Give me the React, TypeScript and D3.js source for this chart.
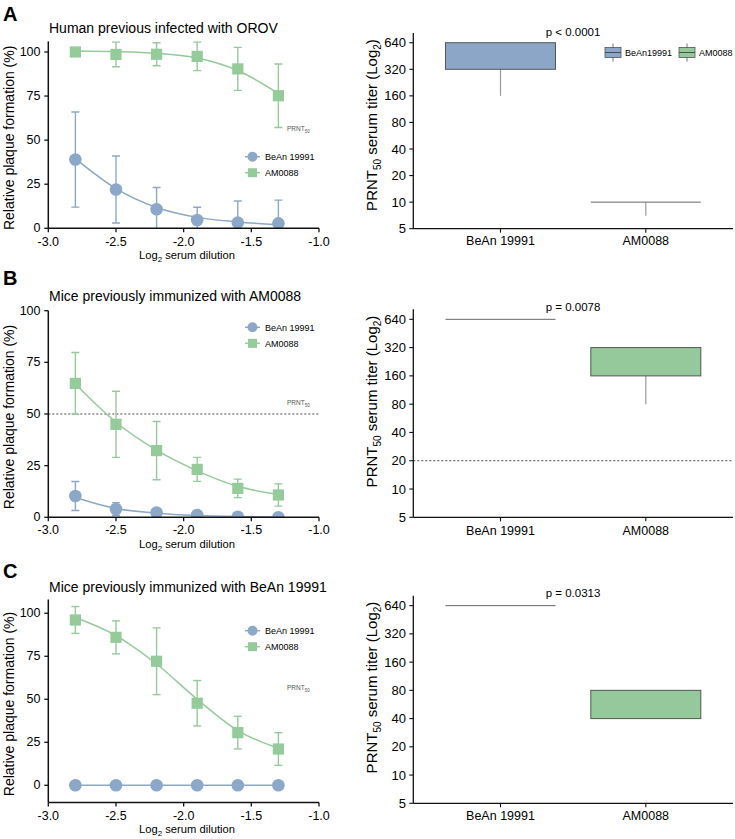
import React from 'react';
import * as d3 from 'd3';

// ---------- shared data ----------
const doses = [-2.8, -2.5, -2.2, -1.9, -1.6, -1.3];
const xTicks = [-3.0, -2.5, -2.0, -1.5, -1.0];
const seriesNames = ['BeAn 19991', 'AM0088'];
const categories = ['BeAn 19991', 'AM0088'];
const boxLegendNames = ['BeAn19991', 'AM0088'];
const titerTicks = [5, 10, 20, 40, 80, 160, 320, 640];
const pctTicks = [0, 25, 50, 75, 100];

// ---------- Panel A ----------
const aBeanMean = [39, 22, 10.8, 4.7, 3.2, 2.8];
const aBeanErr = [27, 19, 12.3, 7.2, 12.3, 13.2];
const aBeanFit = [39.5, 22.5, 11.8, 6.2, 3.6, 2.0];
const aAmMean = [100, 98.6, 98.7, 97.5, 90.4, 75.2];
const aAmErr = [0, 7, 6.5, 8.1, 12.2, 18];
const aAmFit = [100.6, 100.2, 99.2, 96.6, 89.5, 76.5];
const aBoxBean = [160, 320, 640, 640, 640]; // min, q1, median, q3, max
const aBoxAm = [7, 10, 10, 10, 10];
const aPValue = 'p < 0.0001';

// ---------- Panel B ----------
const bBeanMean = [10.3, 4, 2.3, 1.1, 0.3, 0];
const bBeanErr = [7, 3.1, 1.7, 0, 0, 0];
const bBeanFit = [9.6, 4.3, 2.0, 0.9, 0.4, 0.2];
const bAmMean = [64.8, 45, 32.3, 23.2, 14, 10.8];
const bAmErr = [15, 16, 14.1, 5.8, 4.5, 5.4];
const bAmFit = [64.5, 46, 32.5, 22.5, 15, 11];
const bBoxBean = [640, 640, 640, 640, 640];
const bBoxAm = [80, 160, 160, 320, 320];
const bPValue = 'p = 0.0078';
const bPctCutoff = 50;
const bTiterCutoff = 20;

// ---------- Panel C ----------
const cBeanMean = [0, 0, 0, 0, 0, 0];
const cBeanErr = [0, 0, 0, 0, 0, 0];
const cBeanFit = [0, 0, 0, 0, 0, 0];
const cAmMean = [96.1, 86, 72.1, 47.7, 30.6, 21.1];
const cAmErr = [7.8, 9.6, 19.4, 13.2, 9.5, 9.5];
const cAmFit = [97.5, 87, 70.5, 50, 31.8, 21.5];
const cBoxBean = [640, 640, 640, 640, 640];
const cBoxAm = [40, 40, 40, 80, 80];
const cPValue = 'p = 0.0313';

// ---------- styling ----------
const BLUE = '#8ca7c8';
const GREEN = '#95ca9b';
const BOX_BLUE = '#8ba6c6';
const BOX_GREEN = '#95c89b';
const FONT = 'Liberation Sans, Arial, Helvetica, sans-serif';

type LeftCfg = {
  letter: string; letterY: number; title: string; titleY: number;
  yDomain: [number, number]; yRange: [number, number];
  tickBase: number; labelBase: number; legendY: number; prntY: number;
  bean: number[]; beanErr: number[]; beanFit: number[];
  am: number[]; amErr: number[]; amFit: number[];
  cutoff?: number; clipZero: boolean; id: string;
};

type RightCfg = {
  yDomain: [number, number]; yRange: [number, number];
  tickBase: number; labelCenter: number; pText: string; pY: number;
  boxes: number[][]; cutoff?: number; legend: boolean;
};

const xLeft = d3.scaleLinear().domain([-3, -1]).range([48.3, 319]);
const xRight = d3.scalePoint<string>().domain(categories).range([413.3, 733]).padding(0.6);

function Marker({ kind, x, y, size, color }: { kind: string; x: number; y: number; size: number; color: string }) {
  if (kind === 'circle') return <circle cx={x} cy={y} r={size} fill={color} />;
  return <rect x={x - size} y={y - size} width={size * 2} height={size * 2} fill={color} />;
}

function LeftPanel({ c }: { c: LeftCfg }) {
  const y = d3.scaleLinear().domain(c.yDomain).range(c.yRange);
  const x0 = 48.3, x1 = 319;
  const yb = c.yRange[0], yt = c.yRange[1];
  const line = d3.line<number>().x((_, i) => xLeft(doses[i])).y((d) => y(d)).curve(d3.curveMonotoneX);
  const series = [
    { name: seriesNames[0], mean: c.bean, err: c.beanErr, fit: c.beanFit, color: BLUE, kind: 'circle', size: 6.3 },
    { name: seriesNames[1], mean: c.am, err: c.amErr, fit: c.amFit, color: GREEN, kind: 'square', size: 5.6 },
  ];
  const cap = 4;
  const clip = c.clipZero ? `url(#clip${c.id})` : undefined;
  const midY = (yb + yt) / 2;
  return (
    <g>
      <defs>
        <clipPath id={`clip${c.id}`}>
          <rect x={x0} y={yt - 20} width={x1 - x0 + 10} height={yb - yt + 20} />
        </clipPath>
      </defs>
      <text x={3} y={c.letterY} fontSize={20} fontWeight="bold" fontFamily={FONT}>{c.letter}</text>
      <text x={49} y={c.titleY} fontSize={14} fontFamily={FONT}>{c.title}</text>
      {c.cutoff !== undefined && (
        <line x1={x0} x2={x1} y1={y(c.cutoff)} y2={y(c.cutoff)} stroke="#333" strokeWidth={0.9} strokeDasharray="2,2" />
      )}
      <text x={287} y={c.prntY} fontSize={6.5} fill="#555" fontFamily={FONT}>
        PRNT<tspan fontSize={4.5} dy={2}>50</tspan>
      </text>
      {/* error bars */}
      <g clipPath={clip}>
        {series.map((s) =>
          s.mean.map((m, i) => {
            if (s.err[i] <= 0) return null;
            const xx = xLeft(doses[i]);
            const yTop = y(m + s.err[i]);
            const yBot = y(m - s.err[i]);
            return (
              <g key={s.name + i} stroke={s.color} strokeWidth={1.4}>
                <line x1={xx} x2={xx} y1={yTop} y2={yBot} />
                <line x1={xx - cap} x2={xx + cap} y1={yTop} y2={yTop} />
                <line x1={xx - cap} x2={xx + cap} y1={yBot} y2={yBot} />
              </g>
            );
          })
        )}
        {series.map((s) => (
          <path key={s.name} d={line(s.fit) || ''} fill="none" stroke={s.color} strokeWidth={1.5} />
        ))}
        {series.map((s) =>
          s.mean.map((m, i) => (
            <Marker key={s.name + 'm' + i} kind={s.kind} x={xLeft(doses[i])} y={y(m)} size={s.size} color={s.color} />
          ))
        )}
      </g>
      {/* legend */}
      {series.map((s, i) => {
        const ly = c.legendY + i * 16;
        return (
          <g key={'lg' + i}>
            <line x1={245} x2={260} y1={ly} y2={ly} stroke={s.color} strokeWidth={1.4} />
            <Marker kind={s.kind} x={252.5} y={ly} size={s.kind === 'circle' ? 5 : 4.5} color={s.color} />
            <text x={265} y={ly + 3.2} fontSize={9} fontFamily={FONT}>{s.name}</text>
          </g>
        );
      })}
      {/* axes */}
      <line x1={x0} x2={x0} y1={yt} y2={yb} stroke="#111" strokeWidth={1.5} />
      <line x1={x0} x2={x1} y1={yb} y2={yb} stroke="#111" strokeWidth={1.5} />
      {pctTicks.map((t) => (
        <g key={'yt' + t}>
          <line x1={x0 - 4} x2={x0} y1={y(t)} y2={y(t)} stroke="#111" strokeWidth={1.3} />
          <text x={40.5} y={y(t)} dy="0.33em" textAnchor="end" fontSize={12.5} fontFamily={FONT}>{t}</text>
        </g>
      ))}
      {xTicks.map((t) => (
        <g key={'xt' + t}>
          <line x1={xLeft(t)} x2={xLeft(t)} y1={yb} y2={yb + 4} stroke="#111" strokeWidth={1.3} />
          <text x={xLeft(t)} y={c.tickBase} textAnchor="middle" fontSize={12.5} fontFamily={FONT}>{d3.format('.1f')(t).replace('−', '-')}</text>
        </g>
      ))}
      <text x={187} y={c.labelBase} textAnchor="middle" fontSize={11.2} fontFamily={FONT}>
        Log<tspan fontSize={8} dy={3}>2</tspan><tspan dy={-3}> serum dilution</tspan>
      </text>
      <text transform={`translate(14,${midY + 3}) rotate(-90)`} textAnchor="middle" fontSize={14} fontFamily={FONT}>
        Relative plaque formation (%)
      </text>
    </g>
  );
}

function RightPanel({ c }: { c: RightCfg }) {
  const y = d3.scaleLog().base(2).domain(c.yDomain).range(c.yRange);
  const x0 = 413.3, x1 = 733;
  const yb = c.yRange[0], yt = c.yRange[1];
  const fills = [BOX_BLUE, BOX_GREEN];
  const bw = 110;
  return (
    <g>
      {c.cutoff !== undefined && (
        <line x1={x0} x2={x1} y1={y(c.cutoff)} y2={y(c.cutoff)} stroke="#333" strokeWidth={0.9} strokeDasharray="2,2" />
      )}
      {c.boxes.map((b, i) => {
        const cx = xRight(categories[i]) as number;
        const [mn, q1, med, q3, mx] = b;
        return (
          <g key={'b' + i}>
            {mn < q1 && <line x1={cx} x2={cx} y1={y(q1)} y2={y(mn)} stroke="#9a9a9a" strokeWidth={1.2} />}
            {mx > q3 && <line x1={cx} x2={cx} y1={y(q3)} y2={y(mx)} stroke="#9a9a9a" strokeWidth={1.2} />}
            {q3 > q1 ? (
              <rect x={cx - bw / 2} y={y(q3)} width={bw} height={y(q1) - y(q3)} fill={fills[i]} stroke="#555" strokeWidth={1} />
            ) : (
              <line x1={cx - bw / 2} x2={cx + bw / 2} y1={y(q1)} y2={y(q1)} stroke="#666" strokeWidth={1} />
            )}
            {q3 > q1 && med > q1 && med < q3 && (
              <line x1={cx - bw / 2} x2={cx + bw / 2} y1={y(med)} y2={y(med)} stroke="#555" strokeWidth={1} />
            )}
          </g>
        );
      })}
      <text x={573} y={c.pY} textAnchor="middle" fontSize={11.5} fontFamily={FONT}>{c.pText}</text>
      {c.legend && boxLegendNames.map((n, i) => {
        const lx = [613, 687][i];
        const ly = 52.5;
        return (
          <g key={'bl' + i}>
            <line x1={lx} x2={lx} y1={ly - 9} y2={ly + 9} stroke="#555" strokeWidth={0.8} />
            <rect x={lx - 8} y={ly - 5} width={16} height={10} fill={fills[i]} stroke="#555" strokeWidth={0.8} />
            <line x1={lx - 8} x2={lx + 8} y1={ly} y2={ly} stroke="#333" strokeWidth={0.8} />
            <text x={lx + 12} y={ly + 3.2} fontSize={9} fontFamily={FONT}>{n}</text>
          </g>
        );
      })}
      <line x1={x0} x2={x0} y1={yt} y2={yb} stroke="#111" strokeWidth={1.3} />
      <line x1={x0} x2={x1} y1={yb} y2={yb} stroke="#111" strokeWidth={1.3} />
      {titerTicks.map((t) => (
        <g key={'ty' + t}>
          <line x1={x0 - 4} x2={x0} y1={y(t)} y2={y(t)} stroke="#111" strokeWidth={1.1} />
          <text x={406} y={y(t)} dy="0.35em" textAnchor="end" fontSize={13} fontFamily={FONT}>{t}</text>
        </g>
      ))}
      {categories.map((cat) => (
        <g key={'tx' + cat}>
          <line x1={xRight(cat) as number} x2={xRight(cat) as number} y1={yb} y2={yb + 4} stroke="#111" strokeWidth={1.1} />
          <text x={xRight(cat) as number} y={c.tickBase} textAnchor="middle" fontSize={12.5} fontFamily={FONT}>{cat}</text>
        </g>
      ))}
      <text transform={`translate(377,${c.labelCenter}) rotate(-90)`} textAnchor="middle" fontSize={15} fontFamily={FONT}>
        PRNT<tspan fontSize={10} dy={4}>50</tspan><tspan dy={-4}> serum titer (Log</tspan><tspan fontSize={10} dy={4}>2</tspan><tspan dy={-4}>)</tspan>
      </text>
    </g>
  );
}

const leftPanels: LeftCfg[] = [
  {
    id: 'A', letter: 'A', letterY: 20.7, title: 'Human previous infected with OROV', titleY: 33.3,
    yDomain: [0, 106], yRange: [228.3, 41.4], tickBase: 246, labelBase: 258.5, legendY: 156.7, prntY: 131,
    bean: aBeanMean, beanErr: aBeanErr, beanFit: aBeanFit, am: aAmMean, amErr: aAmErr, amFit: aAmFit, clipZero: true,
  },
  {
    id: 'B', letter: 'B', letterY: 285, title: 'Mice previously immunized with AM0088', titleY: 300.7,
    yDomain: [0, 100], yRange: [517.3, 310.7], tickBase: 534, labelBase: 547.5, legendY: 327.3, prntY: 405,
    bean: bBeanMean, beanErr: bBeanErr, beanFit: bBeanFit, am: bAmMean, amErr: bAmErr, amFit: bAmFit,
    cutoff: bPctCutoff, clipZero: true,
  },
  {
    id: 'C', letter: 'C', letterY: 578, title: 'Mice previously immunized with BeAn 19991', titleY: 591.7,
    yDomain: [-10, 108], yRange: [802.5, 599.5], tickBase: 819.5, labelBase: 832.5, legendY: 630.7, prntY: 690,
    bean: cBeanMean, beanErr: cBeanErr, beanFit: cBeanFit, am: cAmMean, amErr: cAmErr, amFit: cAmFit, clipZero: false,
  },
];

const rightPanels: RightCfg[] = [
  { yDomain: [5, 825], yRange: [228.7, 33], tickBase: 245, labelCenter: 125, pText: aPValue, pY: 35.5, boxes: [aBoxBean, aBoxAm], legend: true },
  { yDomain: [5, 818], yRange: [517.3, 309.3], tickBase: 535, labelCenter: 401.5, pText: bPValue, pY: 310.5, boxes: [bBoxBean, bBoxAm], cutoff: bTiterCutoff, legend: false },
  { yDomain: [5, 817], yRange: [803.3, 595.7], tickBase: 820, labelCenter: 687.5, pText: cPValue, pY: 597, boxes: [cBoxBean, cBoxAm], legend: false },
];

export default function App() {
  return (
    <svg width={735} height={839} style={{ position: 'absolute', left: 0, top: 0, display: 'block', background: '#fff' }}>
      <rect width={735} height={839} fill="#fff" />
      {leftPanels.map((c) => <LeftPanel key={c.id} c={c} />)}
      {rightPanels.map((c, i) => <RightPanel key={i} c={c} />)}
    </svg>
  );
}
